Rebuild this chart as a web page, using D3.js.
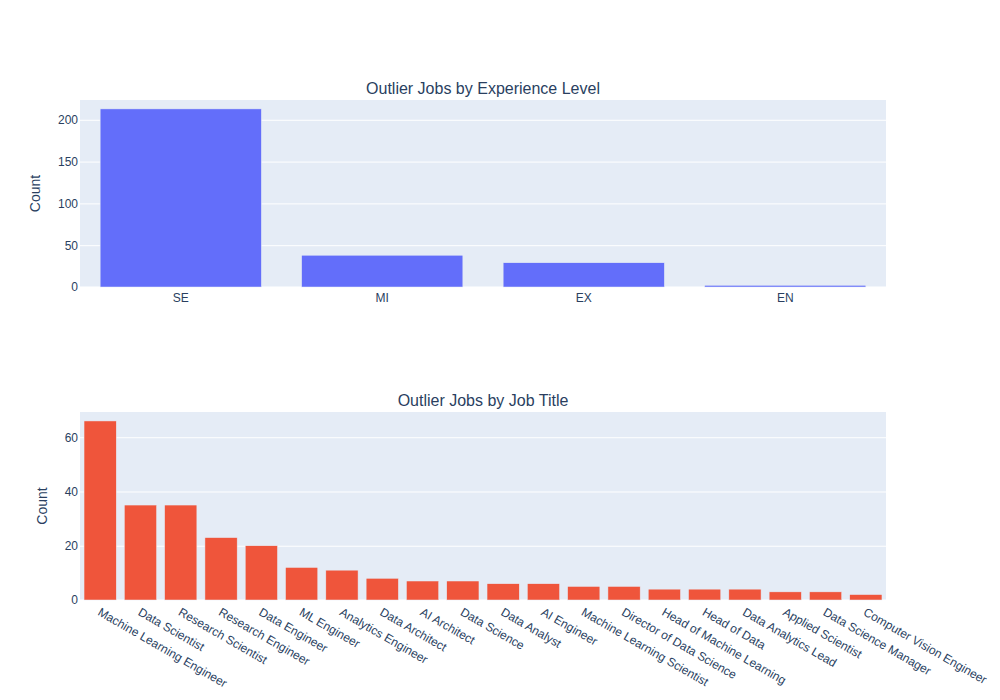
<!DOCTYPE html>
<html><head><meta charset="utf-8">
<script src="https://cdn.jsdelivr.net/npm/d3@7"></script>
<style>body{margin:0;background:#fff}svg{display:block}text{font-family:"Liberation Sans",Arial,sans-serif;fill:#2a3f5f}</style>
</head><body><svg id="c" width="1000" height="700"></svg>
<script>
const levels = ["SE","MI","EX","EN"];
const levelCounts = [213,38,29,2];
const titles = ["Machine Learning Engineer","Data Scientist","Research Scientist","Research Engineer","Data Engineer","ML Engineer","Analytics Engineer","Data Architect","AI Architect","Data Science","Data Analyst","AI Engineer","Machine Learning Scientist","Director of Data Science","Head of Machine Learning","Head of Data","Data Analytics Lead","Applied Scientist","Data Science Manager","Computer Vision Engineer"];
const titleCounts = [66,35,35,23,20,12,11,8,7,7,6,6,5,5,4,4,4,3,3,2];
const levelTicks = [0,50,100,150,200];
const titleTicks = [0,20,40,60];

const svg = d3.select("#c");
const L = 80, R = 886;

function panel(cfg){
  const g = svg.append("g");
  const x = d3.scaleBand().domain(cfg.cats).range([L,R]).paddingInner(0.2).paddingOuter(0.1);
  const y = d3.scaleLinear().domain([0, d3.max(cfg.vals)*1.05]).range([cfg.bottom, cfg.top]);
  g.append("rect").attr("x",L).attr("y",cfg.top).attr("width",R-L).attr("height",cfg.bottom-cfg.top).attr("fill","#E5ECF6");
  const ya = d3.axisLeft(y).tickValues(cfg.ticks).tickSize(0).tickPadding(0);
  const yg = g.append("g").attr("transform",`translate(${L},0)`).call(ya);
  yg.select(".domain").remove();
  yg.selectAll(".tick line").remove();
  yg.selectAll(".tick").each(function(d){
    d3.select(this).insert("line",":first-child").attr("x1",0).attr("x2",R-L).attr("y1",0).attr("y2",0)
      .attr("stroke","#fff").attr("stroke-width", d===0?2:1);
  });
  yg.selectAll(".tick text").attr("x",-2).attr("font-size",12).attr("fill","#2a3f5f").attr("font-family","Liberation Sans, Arial, sans-serif");
  g.selectAll(".bar").data(cfg.cats.map((c,i)=>({c,v:cfg.vals[i]}))).join("rect")
    .attr("x",d=>x(d.c)).attr("width",x.bandwidth())
    .attr("y",d=>y(d.v)).attr("height",d=>y(0)-y(d.v))
    .attr("fill",cfg.color).attr("stroke","#E5ECF6").attr("stroke-width",0.5);
  const xa = d3.axisBottom(x).tickSize(0).tickPadding(0);
  const xg = g.append("g").attr("transform",`translate(0,${cfg.bottom})`).call(xa);
  xg.select(".domain").remove();
  xg.selectAll(".tick text").attr("font-size",12).attr("fill","#2a3f5f").attr("font-family","Liberation Sans, Arial, sans-serif");
  if(cfg.rotate){
    xg.selectAll(".tick text").attr("y",0).attr("text-anchor","start")
      .attr("transform","translate(1,7) rotate(30)").attr("dy","0.71em");
  } else {
    xg.selectAll(".tick text").attr("y",6).attr("dy","0.71em");
  }
  g.append("text").attr("x",(L+R)/2).attr("y",cfg.top-6).attr("text-anchor","middle").attr("font-size",16).text(cfg.title);
  let minX = 0;
  yg.selectAll(".tick text").each(function(){ const b=this.getBBox(); minX=Math.min(minX,b.x); });
  g.append("text").attr("transform",`translate(${L+minX-18},${(cfg.top+cfg.bottom)/2}) rotate(-90)`)
    .attr("text-anchor","middle").attr("font-size",14).text("Count");
}
panel({cats:levels,vals:levelCounts,ticks:levelTicks,top:100,bottom:287,color:"#636efa",title:"Outlier Jobs by Experience Level",rotate:false});
panel({cats:titles,vals:titleCounts,ticks:titleTicks,top:412,bottom:600,color:"#EF553B",title:"Outlier Jobs by Job Title",rotate:true});
</script></body></html>
